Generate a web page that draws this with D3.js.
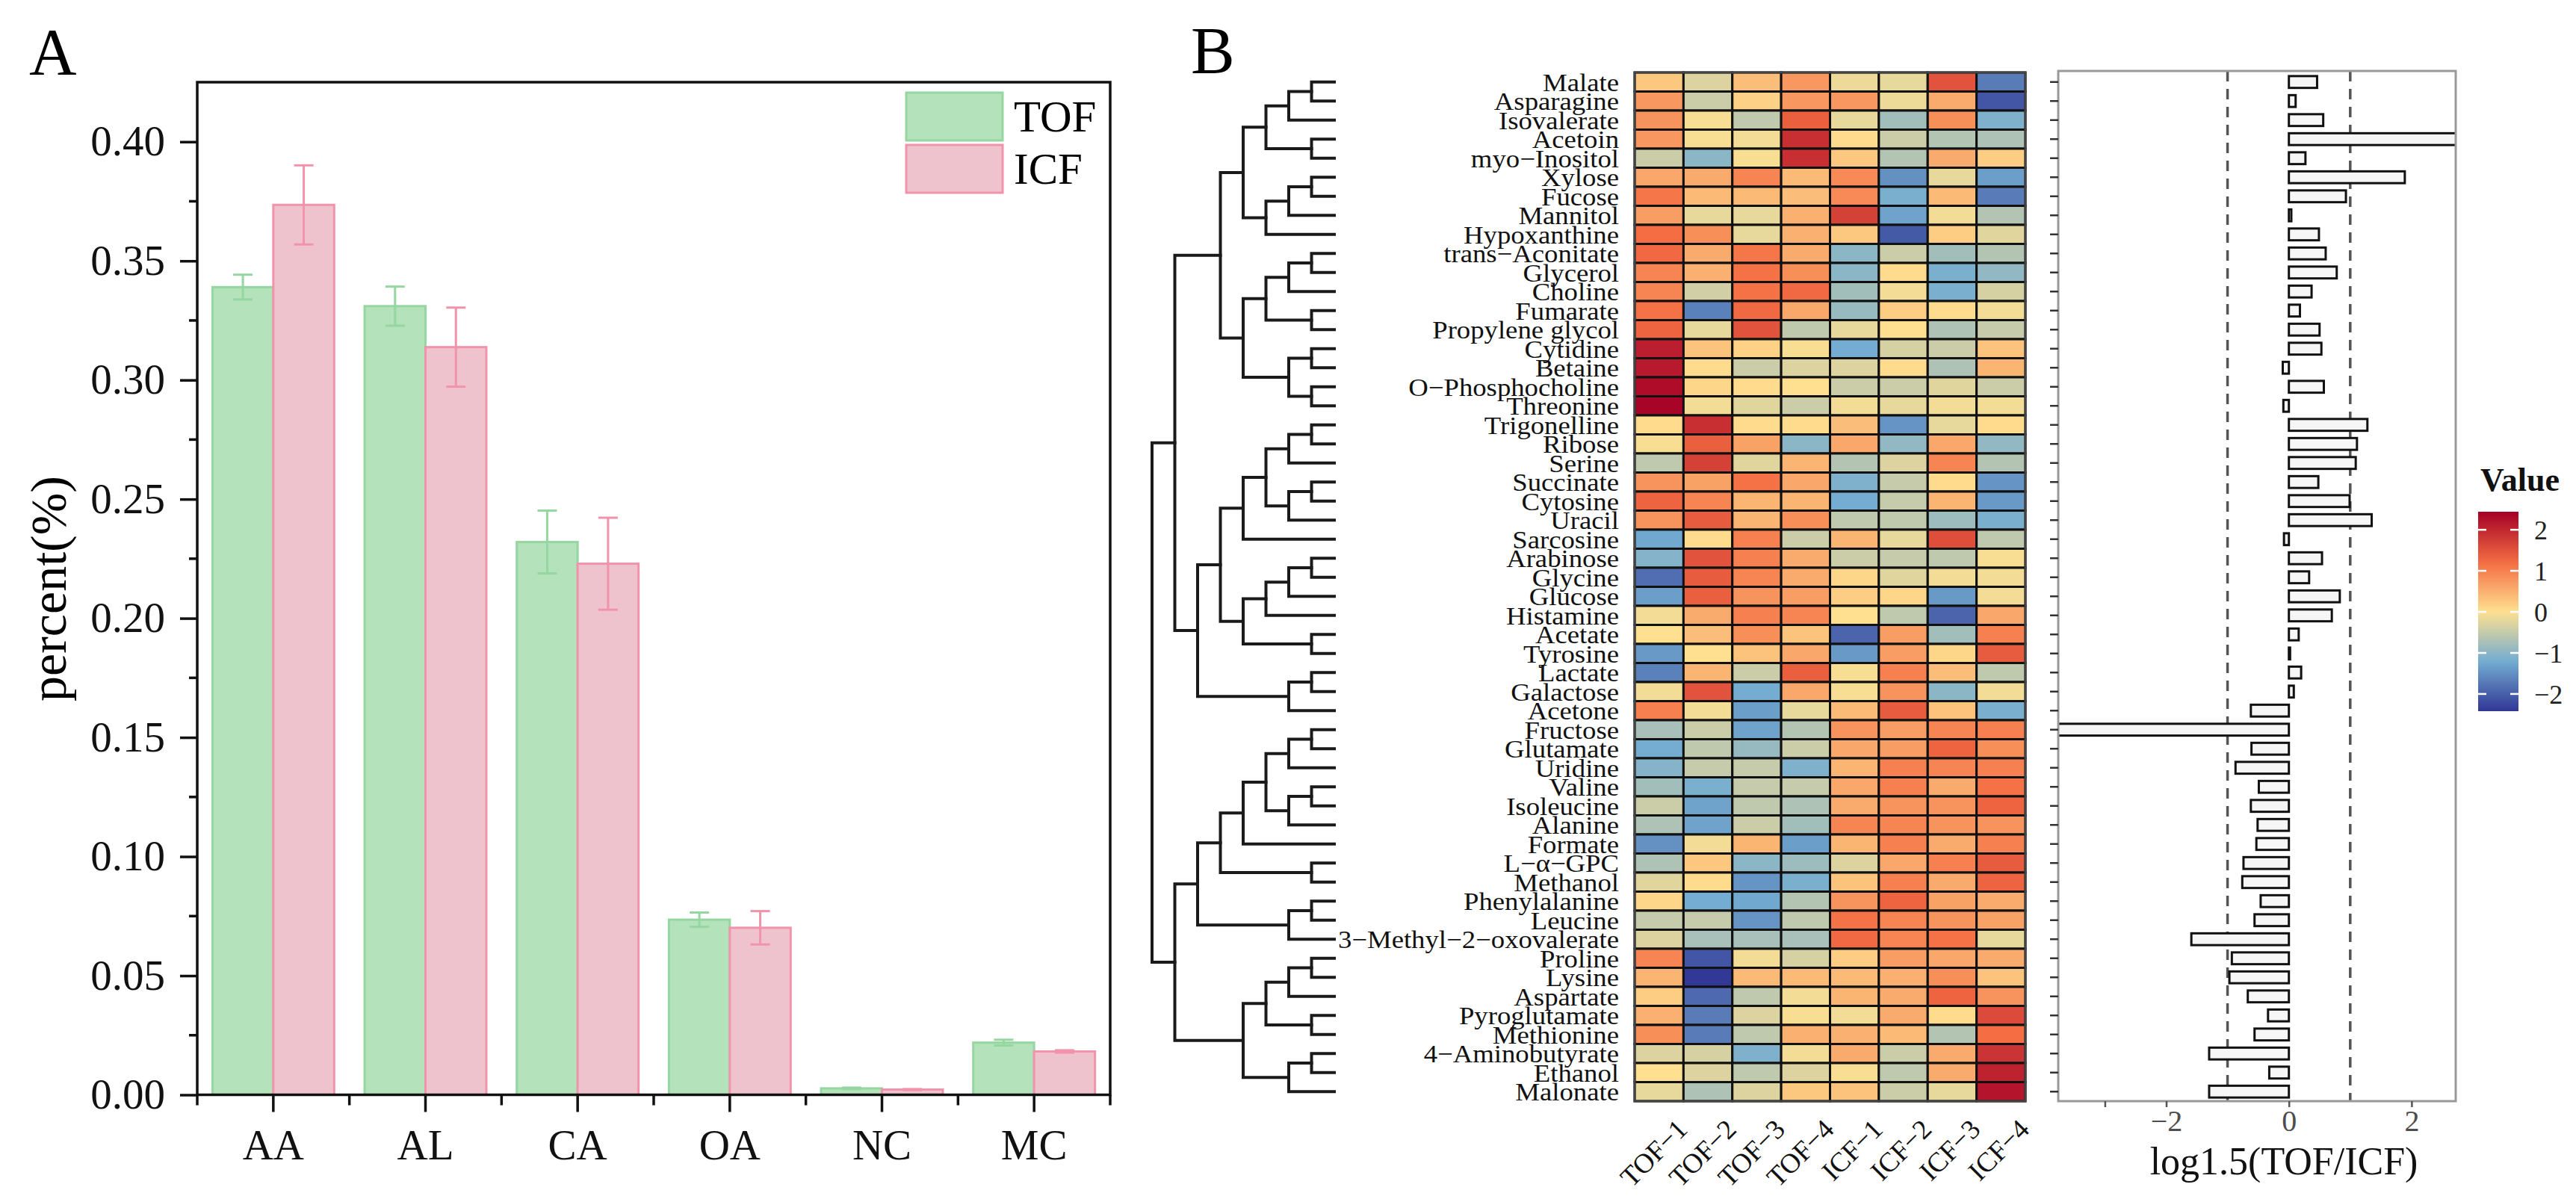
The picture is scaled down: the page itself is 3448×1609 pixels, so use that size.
<!DOCTYPE html>
<html>
<head>
<meta charset="utf-8">
<script src="https://cdn.jsdelivr.net/npm/d3@7"></script>
<style>
  body { margin: 0; background: #fff; }
  text { font-family: "Liberation Serif", "Times New Roman", serif; }
</style>
</head>
<body>
<script>
// ---------- panel A data ----------
var categories = ["AA", "AL", "CA", "OA", "NC", "MC"];
var groups = ["TOF", "ICF"];
var tofMean = [0.339, 0.331, 0.232, 0.0735, 0.0027, 0.0219];
var tofErr  = [0.0052, 0.0082, 0.0132, 0.003, 0.0003, 0.0012];
var icfMean = [0.3735, 0.3138, 0.2229, 0.0701, 0.0022, 0.0182];
var icfErr  = [0.0166, 0.0166, 0.0193, 0.007, 0.0002, 0.0005];
var yTicks = [0, 0.05, 0.10, 0.15, 0.20, 0.25, 0.30, 0.35, 0.40];
var yMinor = [0.025, 0.075, 0.125, 0.175, 0.225, 0.275, 0.325, 0.375];

// ---------- panel B data ----------
var samples = ["TOF−1", "TOF−2", "TOF−3", "TOF−4", "ICF−1", "ICF−2", "ICF−3", "ICF−4"];
var metabolites = ["Malate", "Asparagine", "Isovalerate", "Acetoin", "myo−Inositol", "Xylose", "Fucose",
  "Mannitol", "Hypoxanthine", "trans−Aconitate", "Glycerol", "Choline", "Fumarate", "Propylene glycol",
  "Cytidine", "Betaine", "O−Phosphocholine", "Threonine", "Trigonelline", "Ribose", "Serine", "Succinate",
  "Cytosine", "Uracil", "Sarcosine", "Arabinose", "Glycine", "Glucose", "Histamine", "Acetate", "Tyrosine",
  "Lactate", "Galactose", "Acetone", "Fructose", "Glutamate", "Uridine", "Valine", "Isoleucine", "Alanine",
  "Formate", "L−α−GPC", "Methanol", "Phenylalanine", "Leucine", "3−Methyl−2−oxovalerate", "Proline",
  "Lysine", "Aspartate", "Pyroglutamate", "Methionine", "4−Aminobutyrate", "Ethanol", "Malonate"];

// scaled values, one row per metabolite, columns in sample order
var zValues = [
  [0.25, -0.3, 0.35, 0.75, -0.15, -0.2, 1.5, -1.7],
  [0.75, -0.45, 0.15, 0.75, 0.75, -0.15, 0.55, -2.1],
  [0.8, -0.05, -0.55, 1.35, -0.2, -0.8, 0.85, -1.1],
  [0.75, -0.05, -0.1, 1.9, 0.05, -0.45, -0.65, -0.7],
  [-0.45, -1.0, -0.05, 1.9, 0.25, -0.65, 0.55, 0.2],
  [0.6, 0.55, 0.95, 0.4, 0.9, -1.5, -0.2, -1.35],
  [1.1, 0.4, 0.4, 0.35, 0.9, -1.15, 0.4, -1.7],
  [0.7, -0.2, -0.2, 0.5, 1.7, -1.3, -0.1, -0.65],
  [1.2, 0.85, -0.2, 0.5, 0.25, -2.05, 0.2, -0.25],
  [1.25, 0.55, 1.1, 0.55, -1.0, -0.45, -0.8, -0.65],
  [0.95, 0.5, 1.15, 0.85, -1.0, 0.05, -1.15, -0.95],
  [0.95, -0.4, 1.15, 1.25, -0.8, -0.1, -1.15, -0.35],
  [1.15, -1.65, 1.25, 0.6, -0.9, 0.2, 0.05, -0.1],
  [1.3, -0.2, 1.5, -0.55, -0.2, 0.0, -0.7, -0.5],
  [2.1, 0.3, 0.15, -0.05, -1.2, -0.35, -0.45, 0.3],
  [2.15, 0.05, -0.45, -0.3, -0.3, 0.05, -0.7, 0.45],
  [2.3, 0.1, 0.05, 0.0, -0.45, -0.45, -0.25, -0.45],
  [2.4, -0.1, -0.25, -0.45, -0.1, -0.2, -0.1, -0.1],
  [0.05, 1.9, 0.05, 0.05, 0.35, -1.45, -0.2, 0.05],
  [-0.05, 1.35, 0.65, -1.0, 0.6, -0.95, 0.6, -0.95],
  [-0.55, 1.7, -0.25, 0.45, -0.65, -0.3, 0.95, -0.65],
  [0.8, 0.65, 1.15, 0.6, -1.1, -0.5, 0.05, -1.45],
  [1.3, 0.95, 0.45, 0.45, -1.2, -0.5, 0.45, -1.4],
  [0.8, 1.4, 0.45, 0.85, -0.55, -0.55, -0.85, -1.15],
  [-1.25, 0.05, 1.0, -0.45, 0.45, -0.2, 1.55, -0.55],
  [-1.05, 1.5, 1.0, 0.55, -0.45, -0.5, -0.55, -0.05],
  [-1.85, 1.4, 0.95, 0.55, 0.1, -0.25, -0.1, -0.1],
  [-1.35, 1.35, 0.8, 0.7, 0.2, 0.1, -1.4, -0.1],
  [-0.1, 0.55, 1.0, 0.95, 0.0, -0.55, -1.95, 0.6],
  [0.0, 0.35, 0.85, 0.3, -1.95, 0.7, -0.8, 1.0],
  [-1.4, 0.0, 0.3, 0.6, -1.4, 0.7, 0.1, 1.4],
  [-1.65, 0.45, -0.45, 1.35, -0.05, 1.0, 0.35, -0.55],
  [-0.1, 1.5, -1.2, 0.6, -0.05, 0.8, -1.0, -0.1],
  [1.0, -0.1, -1.35, -0.2, 0.4, 1.4, 0.3, -1.15],
  [-0.75, -0.45, -1.3, -0.65, 0.8, 0.7, 0.95, 1.0],
  [-1.2, -0.55, -0.9, -0.45, 0.6, 0.7, 1.3, 0.85],
  [-1.05, -0.5, -0.5, -1.1, 0.45, 1.0, 0.95, 1.0],
  [-0.8, -1.15, -0.5, -0.5, 0.6, 1.0, 0.55, 1.15],
  [-0.45, -1.3, -0.55, -0.7, 0.55, 0.8, 0.8, 1.3],
  [-0.7, -1.3, -0.45, -0.8, 0.95, 0.95, 0.8, 0.8],
  [-1.5, -0.1, 0.45, -1.35, 0.45, 1.0, 0.55, 1.0],
  [-0.7, 0.25, -1.0, -0.85, -0.3, 0.6, 1.0, 1.4],
  [-0.25, 0.05, -1.45, -1.15, 0.3, 1.0, 0.55, 1.3],
  [0.1, -1.2, -1.25, -0.65, 0.8, 1.3, 0.65, 0.55],
  [-0.5, -0.5, -1.45, -0.55, 1.15, 0.95, 0.8, 0.65],
  [-0.3, -0.75, -0.75, -0.75, 1.25, 0.95, 1.15, -0.2],
  [0.95, -2.1, -0.1, -0.35, 0.2, 0.7, 0.6, 0.55],
  [0.45, -2.4, 0.4, 0.4, 0.4, 0.5, 0.85, 0.3],
  [0.2, -1.9, -0.55, -0.1, 0.45, 0.55, 1.3, 0.8],
  [0.5, -1.7, -0.3, -0.05, -0.1, 0.55, 0.05, 1.6],
  [0.85, -1.7, -0.55, 0.5, 0.5, 0.4, -0.65, 1.2],
  [-0.3, -0.35, -1.1, -0.1, 0.55, -0.45, 0.55, 1.85],
  [0.0, -0.3, -0.55, -0.3, -0.05, -0.55, 0.55, 2.05],
  [-0.2, -0.7, -0.3, 0.25, 0.3, -0.45, -0.2, 2.2]
];

// log1.5(TOF/ICF) per metabolite (Acetoin and Fructose run past the panel)
var logRatio = [0.46, 0.11, 0.56, 3.4, 0.27, 1.89, 0.93, 0.04, 0.49, 0.6, 0.78, 0.37, 0.18, 0.5,
  0.53, -0.1, 0.57, -0.09, 1.28, 1.11, 1.09, 0.48, 0.99, 1.35, -0.08, 0.54, 0.33, 0.83, 0.7, 0.16,
  0.02, 0.2, 0.08, -0.62, -4.2, -0.61, -0.87, -0.49, -0.62, -0.51, -0.53, -0.74, -0.76, -0.46,
  -0.56, -1.59, -0.93, -0.97, -0.67, -0.34, -0.56, -1.3, -0.32, -1.3];
var ratioTicks = [-2, 0, 2];
var legendTicks = [2, 1, 0, -1, -2];

// row clustering (leaf order = metabolites)
var rowTree = [
  [
    [
      [[[["Malate", "Asparagine"], "Isovalerate"], ["Acetoin", "myo−Inositol"]],
       [[["Xylose", "Fucose"], "Mannitol"], "Hypoxanthine"]],
      [[[["trans−Aconitate", "Glycerol"], "Choline"], ["Fumarate", "Propylene glycol"]],
       [["Cytidine", "Betaine"], ["O−Phosphocholine", "Threonine"]]]
    ],
    [
      [[[[["Trigonelline", "Ribose"], "Serine"], [["Succinate", "Cytosine"], "Uracil"]], "Sarcosine"],
       [[[["Arabinose", "Glycine"], "Glucose"], "Histamine"], ["Acetate", "Tyrosine"]]],
      [["Lactate", "Galactose"], "Acetone"]
    ]
  ],
  [
    [
      [[[[["Fructose", "Glutamate"], "Uridine"], [["Valine", "Isoleucine"], "Alanine"]], "Formate"],
       ["L−α−GPC", "Methanol"]],
      [["Phenylalanine", "Leucine"], "3−Methyl−2−oxovalerate"]
    ],
    [
      [[["Proline", "Lysine"], "Aspartate"], ["Pyroglutamate", "Methionine"]],
      [["4−Aminobutyrate", "Ethanol"], "Malonate"]
    ]
  ]
];

var W = 3448, H = 1609;
var svg = d3.select("body").append("svg").attr("width", W).attr("height", H);

// =================== panel A ===================
var xA = d3.scaleBand().domain(categories).range([264, 1486]);
var xG = d3.scaleBand().domain(groups).range([xA.bandwidth() * 0.1, xA.bandwidth() * 0.9]);
var yA = d3.scaleLinear().domain([0, 0.425]).range([1465.5, 110]);

var series = [
  {name: "TOF", mean: tofMean, err: tofErr, fill: "#b4e2ba", line: "#95d6a1"},
  {name: "ICF", mean: icfMean, err: icfErr, fill: "#efc3ce", line: "#f293ac"}
];

svg.append("text").attr("x", 39).attr("y", 99).attr("font-size", 88).text("A");

var gA = svg.append("g");
series.forEach(function(s) {
  var g = gA.append("g");
  g.selectAll("rect").data(categories).join("rect")
    .attr("x", function(c) { return xA(c) + xG(s.name); })
    .attr("y", function(c, i) { return yA(s.mean[i]); })
    .attr("width", xG.bandwidth())
    .attr("height", function(c, i) { return yA(0) - yA(s.mean[i]); })
    .attr("fill", s.fill).attr("stroke", s.line).attr("stroke-width", 3);
  var eb = g.selectAll("g.eb").data(categories).join("g").attr("class", "eb")
    .attr("stroke", s.line).attr("stroke-width", 3);
  eb.append("line")
    .attr("x1", function(c) { return xA(c) + xG(s.name) + xG.bandwidth() / 2; })
    .attr("x2", function(c) { return xA(c) + xG(s.name) + xG.bandwidth() / 2; })
    .attr("y1", function(c, i) { return yA(s.mean[i] - s.err[i]); })
    .attr("y2", function(c, i) { return yA(s.mean[i] + s.err[i]); });
  [-1, 1].forEach(function(sign) {
    eb.append("line")
      .attr("x1", function(c) { return xA(c) + xG(s.name) + xG.bandwidth() / 2 - 13; })
      .attr("x2", function(c) { return xA(c) + xG(s.name) + xG.bandwidth() / 2 + 13; })
      .attr("y1", function(c, i) { return yA(s.mean[i] + sign * s.err[i]); })
      .attr("y2", function(c, i) { return yA(s.mean[i] + sign * s.err[i]); });
  });
});

// frame
svg.append("rect").attr("x", 264).attr("y", 110).attr("width", 1222).attr("height", yA(0) - 110)
  .attr("fill", "none").attr("stroke", "#111").attr("stroke-width", 3.5);

var yAxisA = svg.append("g").attr("transform", "translate(264,0)")
  .call(d3.axisLeft(yA).tickValues(yTicks).tickFormat(d3.format(".2f"))
    .tickSize(23).tickSizeOuter(0).tickPadding(20));
yAxisA.select(".domain").remove();
yAxisA.selectAll("line").attr("stroke", "#111").attr("stroke-width", 3.5);
yAxisA.selectAll("text").attr("font-size", 57).attr("fill", "#111")
  .style("font-family", "'Liberation Serif', serif");
svg.append("g").selectAll("line").data(yMinor).join("line")
  .attr("x1", 253).attr("x2", 264).attr("y1", yA).attr("y2", yA)
  .attr("stroke", "#111").attr("stroke-width", 3.5);

var xAxisA = svg.append("g").attr("transform", "translate(0," + yA(0) + ")")
  .call(d3.axisBottom(xA).tickSize(23).tickSizeOuter(0).tickPadding(23));
xAxisA.select(".domain").remove();
xAxisA.selectAll("line").attr("stroke", "#111").attr("stroke-width", 3.5);
xAxisA.selectAll("text").attr("font-size", 57).attr("fill", "#111")
  .style("font-family", "'Liberation Serif', serif");
var bandEdges = categories.map(function(c) { return xA(c); }).concat([xA.range()[1]]);
svg.append("g").selectAll("line").data(bandEdges).join("line")
  .attr("x1", function(d) { return d; }).attr("x2", function(d) { return d; })
  .attr("y1", yA(0)).attr("y2", yA(0) + 14)
  .attr("stroke", "#111").attr("stroke-width", 3.5);

svg.append("text").attr("transform", "translate(88,788) rotate(-90)")
  .attr("text-anchor", "middle").attr("font-size", 68).text("percent(%)");

// legend
var legA = svg.append("g");
series.forEach(function(s, i) {
  legA.append("rect").attr("x", 1213).attr("y", 124 + i * 70).attr("width", 129).attr("height", 64)
    .attr("fill", s.fill).attr("stroke", s.line).attr("stroke-width", 3);
  legA.append("text").attr("x", 1357).attr("y", 176 + i * 70).attr("font-size", 59).text(s.name);
});

// =================== panel B ===================
svg.append("text").attr("x", 1594).attr("y", 97).attr("font-size", 88).text("B");

var xH = d3.scaleBand().domain(samples).range([2188, 2711]);
var yH = d3.scaleBand().domain(metabolites).range([97, 1474]);
var color = d3.scaleLinear()
  .domain([-2.42, -1.2, 0, 1.2, 2.44])
  .range(["#313695", "#74add1", "#fee090", "#f46d43", "#a50026"])
  .interpolate(d3.interpolateRgb).clamp(true);

var cells = [];
metabolites.forEach(function(m, i) {
  samples.forEach(function(s, j) { cells.push({m: m, s: s, v: zValues[i][j]}); });
});
svg.append("g").selectAll("rect").data(cells).join("rect")
  .attr("x", function(d) { return xH(d.s); })
  .attr("y", function(d) { return yH(d.m); })
  .attr("width", xH.bandwidth()).attr("height", yH.bandwidth())
  .attr("fill", function(d) { return color(d.v); })
  .attr("stroke", "#111").attr("stroke-width", 3);
svg.append("rect").attr("x", 2188).attr("y", 97).attr("width", 523).attr("height", 1377)
  .attr("fill", "none").attr("stroke", "#444").attr("stroke-width", 3);

// row labels (dense like the original, slightly widened)
svg.append("g").selectAll("text").data(metabolites).join("text")
  .attr("transform", function(m) {
    return "translate(2167," + (yH(m) + yH.bandwidth() / 2) + ") scale(1.08,1)";
  })
  .attr("dy", "0.35em").attr("text-anchor", "end").attr("font-size", 34).attr("fill", "#111")
  .text(function(m) { return m; });

// column labels
svg.append("g").selectAll("text").data(samples).join("text")
  .attr("transform", function(s) {
    return "translate(" + (xH(s) + xH.bandwidth() / 2 + 40) + ",1514) rotate(-45)";
  })
  .attr("text-anchor", "end").attr("font-size", 37).attr("fill", "#111")
  .text(function(s) { return s; });

// dendrogram
var root = d3.hierarchy(rowTree, function(d) { return Array.isArray(d) ? d : null; });
var dx = d3.scaleLinear().domain([0, root.height]).range([1786, 1542]);
root.eachAfter(function(n) {
  n.px = dx(n.height);
  if (n.children) {
    n.py = (n.children[0].py + n.children[n.children.length - 1].py) / 2;
  } else {
    n.py = yH(n.data) + yH.bandwidth() / 2;
  }
});
var dendro = svg.append("g").attr("stroke", "#1a1a1a").attr("stroke-width", 4).attr("fill", "none");
root.descendants().filter(function(n) { return n.children; }).forEach(function(n) {
  var a = n.children[0], b = n.children[n.children.length - 1];
  dendro.append("path")
    .attr("d", "M" + a.px + "," + a.py + "H" + n.px + "V" + b.py + "H" + b.px)
    .attr("stroke-linecap", "square");
});

// ---------- log ratio panel ----------
var xR = d3.scaleLinear().domain([-3.76, 2.72]).range([2755, 3287]);
svg.append("clipPath").attr("id", "clipR").append("rect")
  .attr("x", 2755).attr("y", 95).attr("width", 532).attr("height", 1379);

var gR = svg.append("g");
gR.selectAll("line.ref").data([-1, 1]).join("line").attr("class", "ref")
  .attr("x1", xR).attr("x2", xR).attr("y1", 95).attr("y2", 1474)
  .attr("stroke", "#555").attr("stroke-width", 3.5).attr("stroke-dasharray", "14,10");

var barH = yH.bandwidth() * 0.62;
gR.append("g").attr("clip-path", "url(#clipR)").selectAll("rect").data(metabolites).join("rect")
  .attr("x", function(m, i) { return xR(Math.min(0, logRatio[i])); })
  .attr("y", function(m) { return yH(m) + (yH.bandwidth() - barH) / 2; })
  .attr("width", function(m, i) { return Math.abs(xR(logRatio[i]) - xR(0)); })
  .attr("height", barH)
  .attr("fill", "#f6f6f6").attr("stroke", "#111").attr("stroke-width", 3);

gR.append("rect").attr("x", 2755).attr("y", 95).attr("width", 532).attr("height", 1379)
  .attr("fill", "none").attr("stroke", "#999").attr("stroke-width", 3);

// row ticks on left
gR.append("g").selectAll("line").data(metabolites).join("line")
  .attr("x1", 2744).attr("x2", 2755)
  .attr("y1", function(m) { return yH(m) + yH.bandwidth() / 2; })
  .attr("y2", function(m) { return yH(m) + yH.bandwidth() / 2; })
  .attr("stroke", "#333").attr("stroke-width", 2.5);

var xAxisR = svg.append("g").attr("transform", "translate(0,1474)")
  .call(d3.axisBottom(xR).tickValues([-3].concat(ratioTicks))
    .tickFormat(function(d) { return d === -3 ? "" : d3.format("d")(d).replace("-", "−"); })
    .tickSize(8).tickSizeOuter(0).tickPadding(4));
xAxisR.select(".domain").remove();
xAxisR.selectAll("line").attr("stroke", "#555").attr("stroke-width", 2.5);
xAxisR.selectAll("text").attr("font-size", 40).attr("fill", "#4d4d4d")
  .style("font-family", "'Liberation Serif', serif");

svg.append("text").attr("x", 3057).attr("y", 1572).attr("text-anchor", "middle")
  .attr("font-size", 52).attr("fill", "#111").text("log1.5(TOF/ICF)");

// ---------- colour legend ----------
var yL = d3.scaleLinear().domain([-2.42, 2.44]).range([952, 685]);
var grad = svg.append("defs").append("linearGradient").attr("id", "valgrad")
  .attr("x1", 0).attr("y1", 1).attr("x2", 0).attr("y2", 0);
d3.range(0, 1.0001, 0.05).forEach(function(t) {
  var v = -2.42 + t * (2.44 + 2.42);
  grad.append("stop").attr("offset", t).attr("stop-color", color(v));
});
svg.append("text").attr("x", 3320).attr("y", 657).attr("font-size", 44).attr("font-weight", "bold")
  .attr("fill", "#111").text("Value");
svg.append("rect").attr("x", 3317).attr("y", 685).attr("width", 54).attr("height", 267)
  .attr("fill", "url(#valgrad)");
var lt = svg.append("g").selectAll("g").data(legendTicks).join("g");
lt.append("line").attr("x1", 3317).attr("x2", 3328).attr("y1", yL).attr("y2", yL)
  .attr("stroke", "#fff").attr("stroke-width", 2.5);
lt.append("line").attr("x1", 3360).attr("x2", 3371).attr("y1", yL).attr("y2", yL)
  .attr("stroke", "#fff").attr("stroke-width", 2.5);
lt.append("text").attr("x", 3392).attr("y", yL).attr("dy", "0.35em").attr("font-size", 36)
  .attr("fill", "#222").text(function(d) { return String(d).replace("-", "−"); });
</script>
</body>
</html>
